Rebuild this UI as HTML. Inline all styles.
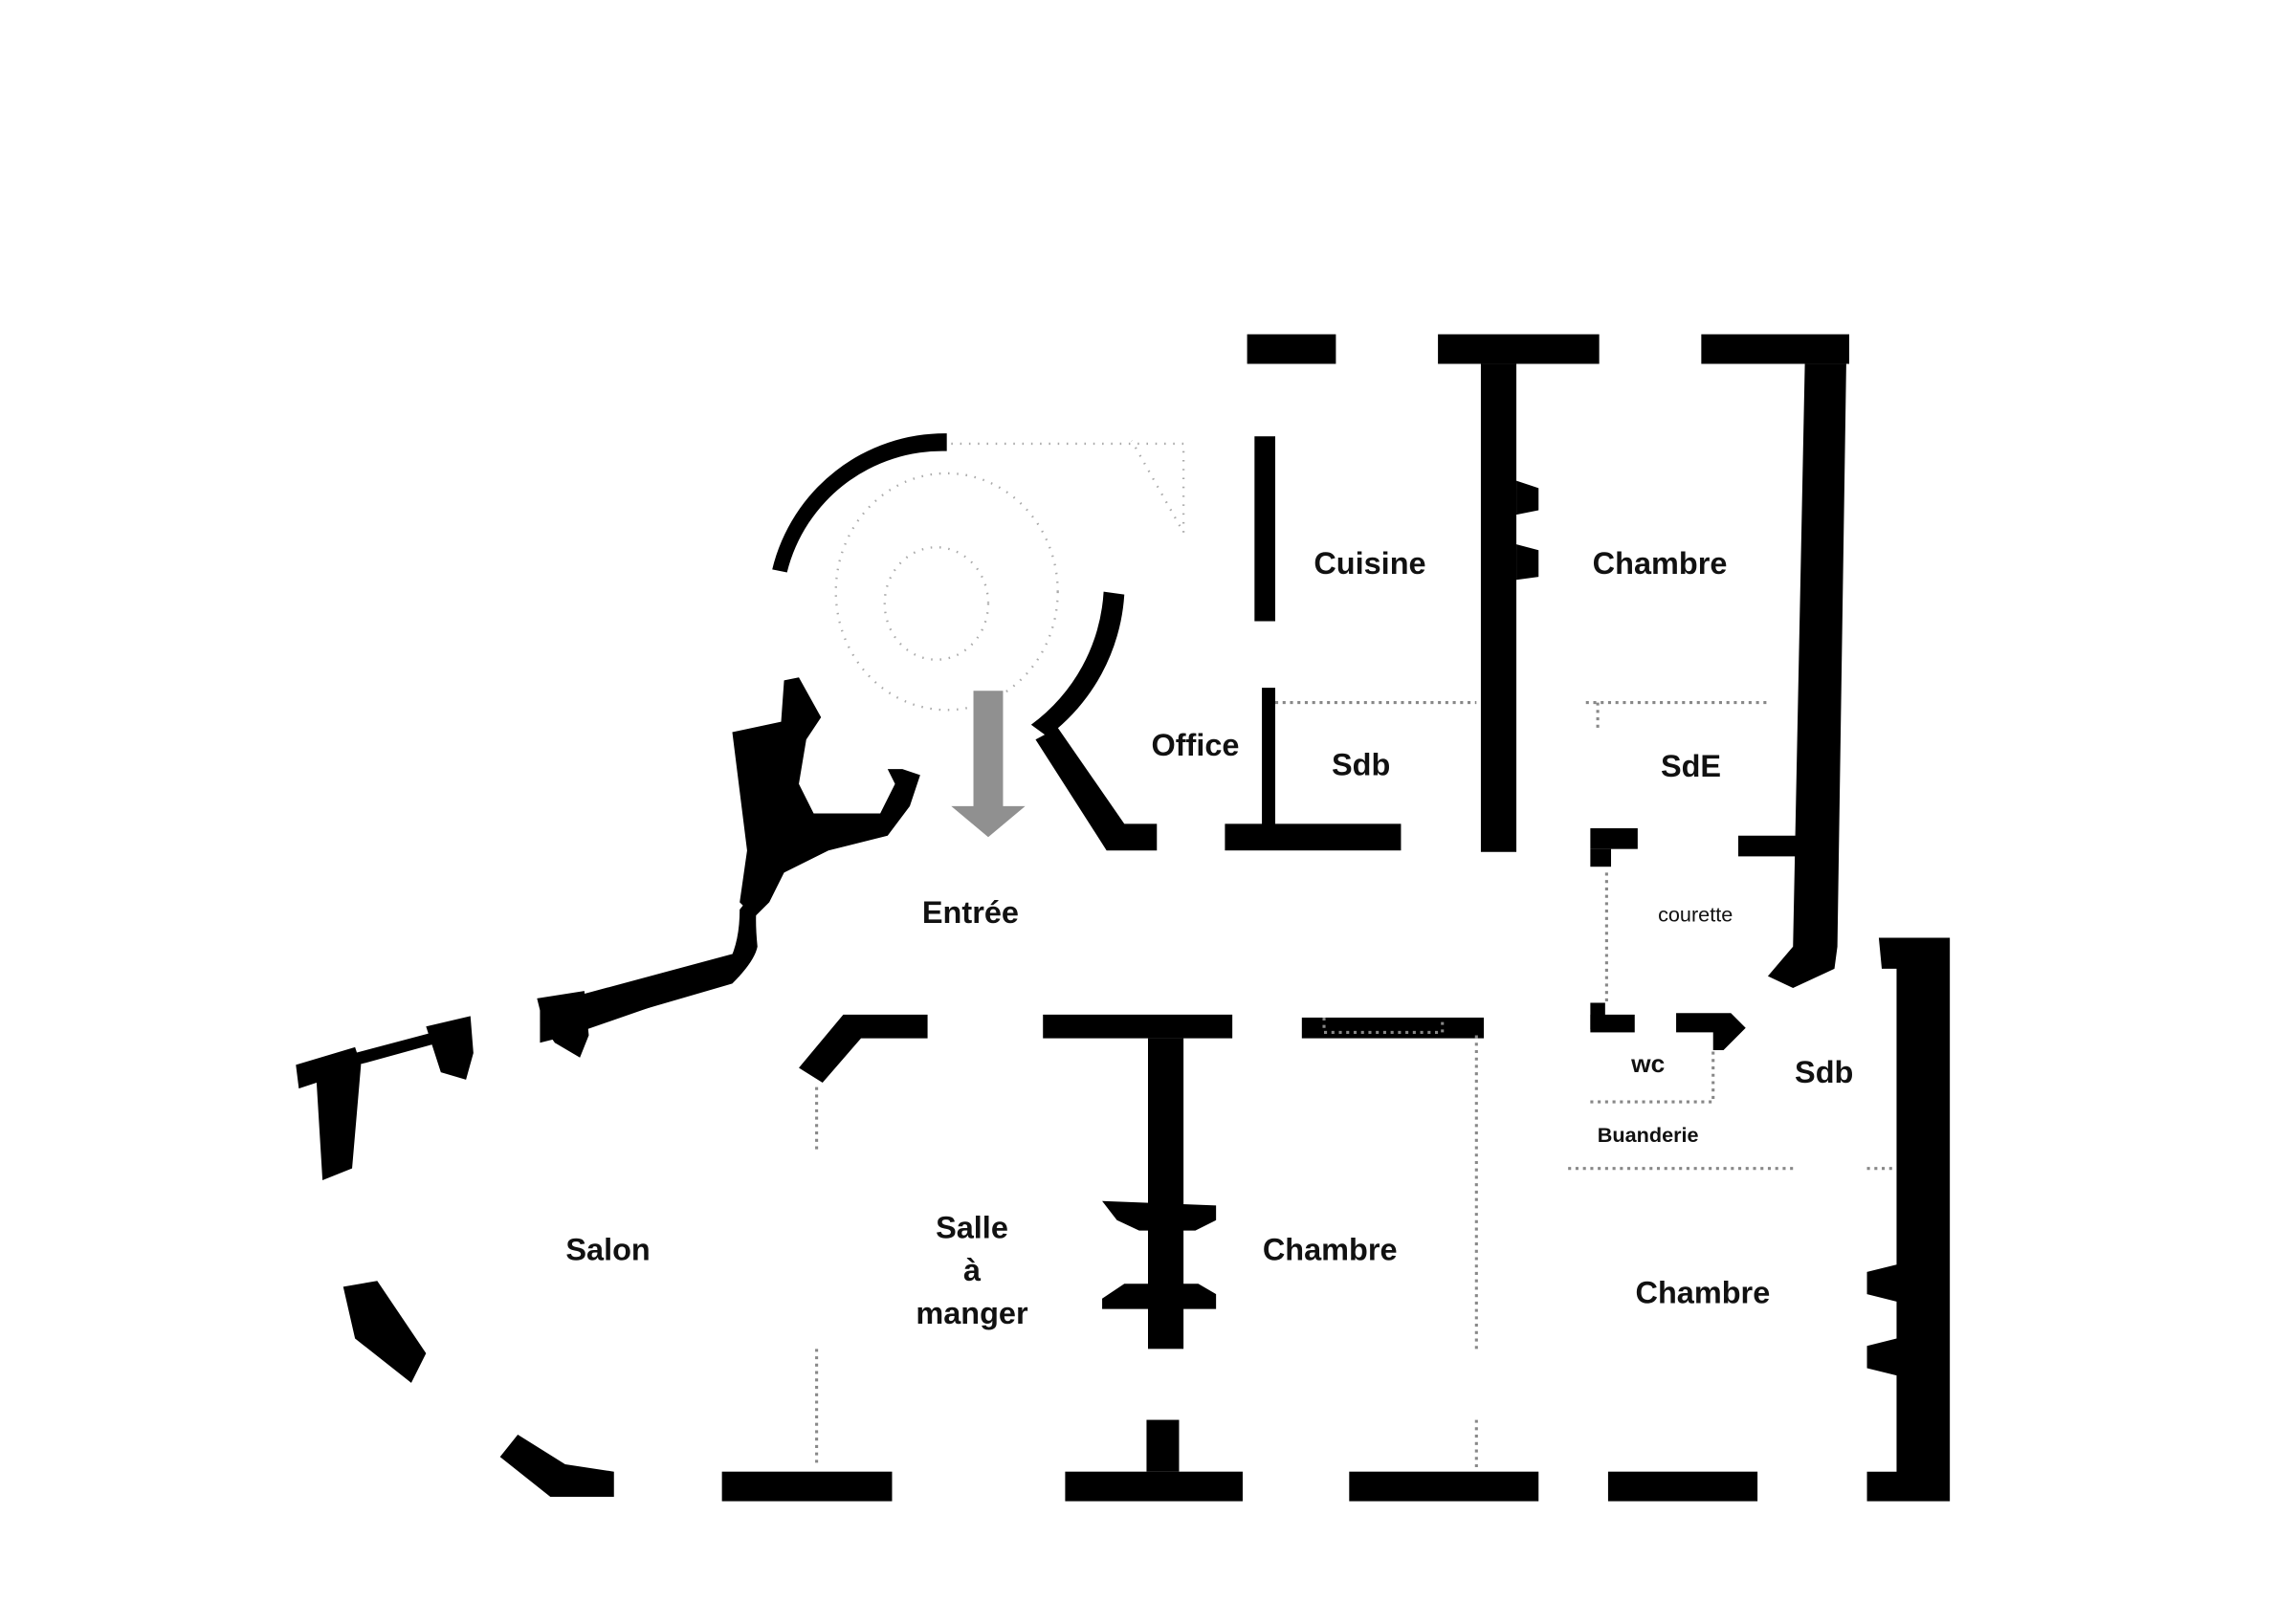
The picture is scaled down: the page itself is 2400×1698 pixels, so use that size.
<!DOCTYPE html>
<html><head><meta charset="utf-8"><style>
html,body{margin:0;padding:0;background:#fff;width:2400px;height:1698px;overflow:hidden}
svg{display:block}
text{font-family:"Liberation Sans",sans-serif;font-weight:bold;fill:#111;text-anchor:middle}
</style></head><body>
<svg width="2400" height="1698" viewBox="0 0 1552 1098" xmlns="http://www.w3.org/2000/svg">
<g fill="#000">
<rect x="843" y="226" width="60" height="20"/>
<rect x="972" y="226" width="109" height="20"/>
<rect x="1001" y="246" width="24" height="330"/>
<polygon points="1025,325 1040,330 1040,345 1025,348"/>
<polygon points="1025,368 1040,372 1040,390 1025,392"/>
<rect x="1150" y="226" width="100" height="20"/>
<polygon points="1220,246 1248,246 1242,640 1240,655 1212,668 1195,660 1212,640"/>
<rect x="848" y="295" width="14" height="125"/>
<rect x="853" y="465" width="9" height="95"/>
<rect x="828" y="557" width="119" height="18"/>
<polygon points="700,500 715,492 760,557 782,557 782,575 748,575"/>
<path d="M522,385 A120,120 0 0 1 640,293 L640,305 A108,108 0 0 0 532,387 Z"/>
<path d="M746,400 L760,402 A130,130 0 0 1 708,498 L697,490 A120,120 0 0 0 746,400 Z"/>
<polygon points="530,460 540,458 555,485 545,500 540,530 550,550 595,550 605,530 600,520 610,520 622,524 615,545 600,565 560,575 530,590 520,610 510,620 500,610 505,575 495,495 528,488"/>
<path d="M520,590 Q508,600 512,640 Q510,650 495,665 L385,697 L385,690 L490,655 Q500,640 500,615 Z"/>
<polygon points="495,645 500,660 385,700 365,705 365,680"/>
<polygon points="363,675 395,670 398,700 392,715 375,705 368,695"/>
<polygon points="288,694 318,687 320,712 315,730 298,725"/>
<polygon points="240,712 300,696 300,704 242,720"/>
<polygon points="200,720 240,708 244,720 238,790 218,798 214,732 202,736"/>
<polygon points="232,870 255,866 288,915 278,935 240,905"/>
<polygon points="338,985 350,970 382,990 415,995 415,1012 372,1012"/>
<polygon points="570,686 627,686 627,702 582,702 556,732 540,722"/>
<rect x="705" y="686" width="128" height="16"/>
<rect x="776" y="702" width="24" height="210"/>
<polygon points="745,812 822,815 822,825 808,832 770,832 755,825"/>
<polygon points="745,878 760,868 810,868 822,875 822,885 745,885"/>
<rect x="880" y="688" width="123" height="14"/>
<rect x="1075" y="560" width="32" height="14"/>
<rect x="1075" y="574" width="14" height="12"/>
<rect x="1175" y="565" width="50" height="14"/>
<rect x="1075" y="678" width="10" height="18"/>
<rect x="1075" y="686" width="30" height="12"/>
<polygon points="1133,685 1170,685 1180,695 1165,710 1158,710 1158,698 1133,698"/>
<polygon points="1270,634 1318,634 1318,1015 1262,1015 1262,995 1282,995 1282,930 1262,925 1262,910 1282,905 1282,880 1262,875 1262,860 1282,855 1282,655 1272,655"/>
<rect x="488" y="995" width="115" height="20"/>
<rect x="720" y="995" width="120" height="20"/>
<rect x="775" y="960" width="22" height="35"/>
<rect x="912" y="995" width="128" height="20"/>
<rect x="1087" y="995" width="101" height="20"/>
</g>
<g stroke="#888" stroke-width="2" stroke-dasharray="2,3" fill="none">
<path d="M862,475 H998"/>
<path d="M1072,475 H1195"/><path d="M1080,475 V495"/>
<path d="M1086,590 V680"/>
<path d="M1075,745 H1158 V710"/>
<path d="M1060,790 H1215"/><path d="M1262,790 H1280"/>
<path d="M998,700 V915"/><path d="M998,960 V995"/>
<path d="M552,735 V778"/><path d="M552,912 V990"/>
<path d="M895,688 V698 H975 V688"/>
</g>
<g stroke="#aaa" stroke-width="1.5" stroke-dasharray="1,5" fill="none">
<path d="M643,300 H800 V360 L765,298"/>
<ellipse cx="633" cy="408" rx="35" ry="38"/>
<ellipse cx="640" cy="400" rx="75" ry="80"/>
</g>
<polygon points="658,467 678,467 678,545 693,545 668,566 643,545 658,545" fill="#909090"/>
<text x="926" y="388" font-size="21">Cuisine</text>
<text x="1122" y="388" font-size="21">Chambre</text>
<text x="808" y="511" font-size="21">Office</text>
<text x="920" y="524" font-size="21">Sdb</text>
<text x="1143" y="525" font-size="21">SdE</text>
<text x="1146" y="623" font-size="14" style="font-weight:normal">courette</text>
<text x="656" y="624" font-size="21">Entrée</text>
<text x="1114" y="725" font-size="17">wc</text>
<text x="1233" y="732" font-size="21">Sdb</text>
<text x="1114" y="772" font-size="14">Buanderie</text>
<text x="411" y="852" font-size="21">Salon</text>
<text x="657" y="837" font-size="21">Salle</text>
<text x="657" y="866" font-size="21">à</text>
<text x="657" y="895" font-size="21">manger</text>
<text x="899" y="852" font-size="21">Chambre</text>
<text x="1151" y="881" font-size="21">Chambre</text>
</svg>
</body></html>
